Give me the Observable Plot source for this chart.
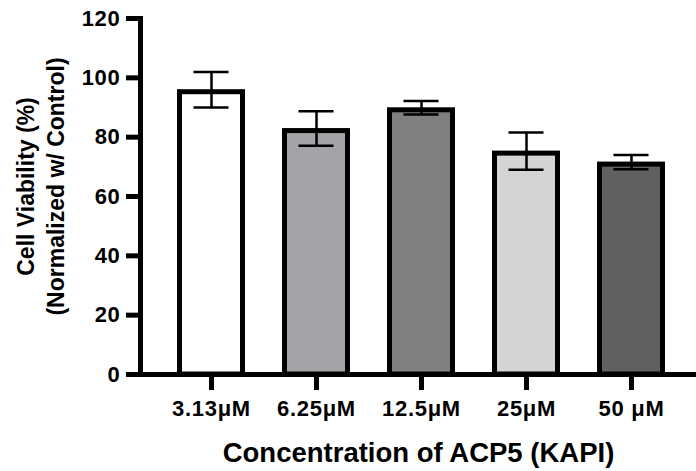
<!DOCTYPE html>
<html>
<head>
<meta charset="utf-8">
<script src="https://cdn.jsdelivr.net/npm/d3@7"></script>
<script src="https://cdn.jsdelivr.net/npm/@observablehq/plot@0.6"></script>
<style>
  html, body { margin: 0; padding: 0; background: #fff; }
  #chart { width: 696px; height: 471px; }
  svg { font-family: "Liberation Sans", Arial, sans-serif; color: #000; }
  svg g[aria-label="x-axis tick label"] text, svg g[aria-label="y-axis tick label"] text { letter-spacing: 0.7px; }
</style>
</head>
<body>
<div id="chart"></div>
<script>
const categories = ["3.13μM", "6.25μM", "12.5μM", "25μM", "50 μM"];
const means = [96, 82.9, 89.9, 75.3, 71.6];
const sds = [6, 5.8, 2.3, 6.3, 2.4];
const fills = ["#ffffff", "#a4a4a8", "#808080", "#d4d4d4", "#606060"];
const yTicks = [0, 20, 40, 60, 80, 100, 120];
const yLabel = "Cell Viability (%)\n(Normalized w/ Control)";
const xLabel = "Concentration of ACP5 (KAPI)";

const data = categories.map((c, i) => ({cat: c, mean: means[i], sd: sds[i], fill: fills[i]}));

const chart = Plot.plot({
  width: 696,
  height: 471,
  marginTop: 18,
  marginBottom: 97,
  marginLeft: 140,
  marginRight: 0,
  style: {fontFamily: '"Liberation Sans", Arial, sans-serif', color: "#000", background: "#fff"},
  x: {domain: categories, range: [140, 702], paddingInner: 0.352, paddingOuter: 0.352, label: null},
  y: {domain: [0, 120], label: null},
  color: {type: "identity"},
  marks: [
    Plot.barY(data, {x: "cat", y: "mean", fill: "fill", stroke: "#000", strokeWidth: 5,
      insetTop: 2.5, insetLeft: 2.5, insetRight: 2.5}),
    Plot.ruleX(data, {x: "cat", y1: d => d.mean - d.sd, y2: d => d.mean + d.sd, stroke: "#000", strokeWidth: 2.5}),
    Plot.tickY(data, {x: "cat", y: d => d.mean + d.sd, stroke: "#000", strokeWidth: 2.5, insetLeft: 16.5, insetRight: 16.5}),
    Plot.tickY(data, {x: "cat", y: d => d.mean - d.sd, stroke: "#000", strokeWidth: 2.5, insetLeft: 16.5, insetRight: 16.5}),
    Plot.ruleY([0], {stroke: "#000", strokeWidth: 5}),
    Plot.frame({anchor: "left", stroke: "#000", strokeWidth: 5, strokeLinecap: "square"}),
    Plot.axisY({ticks: yTicks, tickSize: 14, tickPadding: 6, strokeWidth: 5, fontSize: 22, fontWeight: "bold", label: null, fill: "#000", stroke: "#000"}),
    Plot.axisX({tickSize: 16, tickPadding: 10, strokeWidth: 5, fontSize: 22, fontWeight: "bold", label: null, fill: "#000", stroke: "#000"}),
    Plot.text([yLabel], {frameAnchor: "left", dx: -101, dy: -10, rotate: -90, fontSize: 23, fontWeight: "bold", lineHeight: 1.3, fill: "#000", textAnchor: "middle", lineAnchor: "middle"}),
    Plot.text([xLabel], {frameAnchor: "bottom", dy: 79, fontSize: 27.5, fontWeight: "bold", fill: "#000", textAnchor: "middle", lineAnchor: "middle"})
  ]
});
document.getElementById("chart").appendChild(chart);
</script>
</body>
</html>
